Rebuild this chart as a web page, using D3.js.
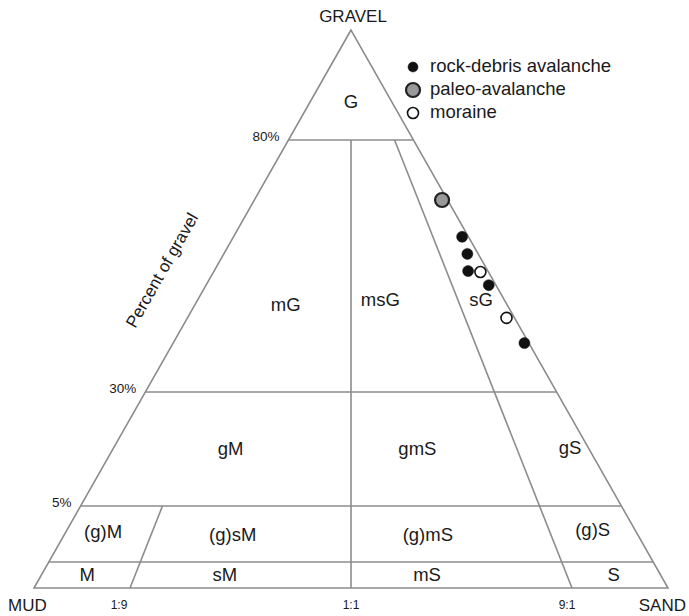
<!DOCTYPE html>
<html>
<head>
<meta charset="utf-8">
<title>Folk gravel-sand-mud ternary</title>
<script src="https://cdnjs.cloudflare.com/ajax/libs/d3/7.8.5/d3.min.js"></script>
<style>
  body { margin: 0; background: #fff; }
  svg text { font-family: "Liberation Sans", Arial, sans-serif; fill: #1a1a1a; }
</style>
</head>
<body>
<div id="chart"></div>
<script>
// class boundaries (gravel %, sand fraction of sand+mud)
var gravelLevels = [0, 0.01, 5, 30, 80, 100];
var ratioLevels = [0, 0.1, 0.5, 0.9, 1];
var gravelLines = [0.01, 5, 30, 80];
var ratioLines = [0.1, 0.5, 0.9];
var ratioLineTop = [5, 80, 80];
var gravelTicks = ["5%", "30%", "80%"];
var gravelTickValues = [5, 30, 80];
var ratioTicks = ["1:9", "1:1", "9:1"];

// class names and where they sit (gravel %, sand fraction)
var classNames = ["G", "mG", "msG", "sG", "gM", "gmS", "gS", "(g)M", "(g)sM", "(g)mS", "(g)S", "M", "sM", "mS", "S"];
var classGravel = [87, 47.3, 48.3, 48.3, 17.5, 17.5, 17.9, 2.7, 2.5, 2.5, 2.9, 0.005, 0.005, 0.005, 0.005];
var classRatio = [0.5, 0.26, 0.61, 0.95, 0.21, 0.66, 0.975, 0.043, 0.263, 0.654, 0.951, 0.049, 0.266, 0.641, 0.95];

// samples (percent)
var rockGravel = [60.8, 57.4, 54.0, 51.2, 39.7];
var rockSand = [38.5, 41.4, 43.8, 48.0, 59.8];
var rockMud = [0.7, 1.2, 2.2, 0.8, 0.5];

var paleoGravel = [68.1];
var paleoSand = [31.3];
var paleoMud = [0.6];

var moraineGravel = [53.8, 44.7];
var moraineSand = [45.3, 54.4];
var moraineMud = [0.9, 0.9];

var legendNames = ["rock-debris avalanche", "paleo-avalanche", "moraine"];

var width = 689, height = 616;

var y = d3.scaleLinear().domain(gravelLevels).range([588, 562, 506, 392, 140, 30]);
var x = d3.scaleLinear().domain(ratioLevels).range([34, 130, 351, 572, 668]);

var apexX = x(0.5), apexY = y(100), baseY = y(0);

function project(g, r) {
  var py = y(g);
  var t = (py - apexY) / (baseY - apexY);
  return [apexX + (x(r) - apexX) * t, py];
}

var svg = d3.select("#chart").append("svg")
  .attr("width", width)
  .attr("height", height);

svg.append("rect").attr("width", width).attr("height", height).attr("fill", "#fff");

var lineColor = "#8c8c8c";

// outline
svg.append("path")
  .attr("d", d3.line()([project(100, 0.5), project(0, 0), project(0, 1)]) + "Z")
  .attr("fill", "none")
  .attr("stroke", lineColor)
  .attr("stroke-width", 1.6)
  .attr("stroke-linejoin", "miter");

// horizontal gravel boundaries
svg.selectAll(".gline")
  .data(gravelLines)
  .enter().append("line")
  .attr("class", "gline")
  .attr("x1", function(d) { return project(d, 0)[0]; })
  .attr("x2", function(d) { return project(d, 1)[0]; })
  .attr("y1", function(d) { return y(d); })
  .attr("y2", function(d) { return y(d); })
  .attr("stroke", lineColor)
  .attr("stroke-width", 1.6);

// sand:mud ratio boundaries
svg.selectAll(".rline")
  .data(ratioLines)
  .enter().append("line")
  .attr("class", "rline")
  .attr("x1", function(d) { return project(0, d)[0]; })
  .attr("y1", baseY)
  .attr("x2", function(d, i) { return project(ratioLineTop[i], d)[0]; })
  .attr("y2", function(d, i) { return y(ratioLineTop[i]); })
  .attr("stroke", lineColor)
  .attr("stroke-width", 1.6);

// gravel % labels on left edge
svg.selectAll(".gtick")
  .data(gravelTickValues)
  .enter().append("text")
  .attr("class", "gtick")
  .attr("x", function(d) { return project(d, 0)[0] - 9; })
  .attr("y", function(d) { return y(d) + 1; })
  .attr("text-anchor", "end")
  .style("font-size", "13.5px")
  .text(function(d, i) { return gravelTicks[i]; });

// ratio labels under base
svg.selectAll(".rtick")
  .data(ratioLines)
  .enter().append("text")
  .attr("class", "rtick")
  .attr("x", function(d) { return x(d); })
  .attr("dx", function(d, i) { return [-11, 0, -5][i]; })
  .attr("y", baseY + 21)
  .attr("text-anchor", "middle")
  .style("font-size", "12px")
  .text(function(d, i) { return ratioTicks[i]; });

// vertex labels
svg.append("text").attr("x", apexX + 2).attr("y", apexY - 8.5)
  .attr("text-anchor", "middle").style("font-size", "17px").text("GRAVEL");
svg.append("text").attr("x", x(0) - 26).attr("y", baseY + 23)
  .attr("text-anchor", "start").style("font-size", "17px").text("MUD");
svg.append("text").attr("x", x(1) + 18).attr("y", baseY + 23)
  .attr("text-anchor", "end").style("font-size", "17px").text("SAND");

// axis title along left edge
var edgeAngle = Math.atan2(baseY - apexY, apexX - x(0)) * 180 / Math.PI;
var titlePos = project(53.6, 0);
svg.append("text")
  .attr("transform", "translate(" + (titlePos[0] - 46) + "," + titlePos[1] + ") rotate(" + (-edgeAngle) + ")")
  .attr("text-anchor", "middle")
  .style("font-size", "17px")
  .text("Percent of gravel");

// class labels
svg.selectAll(".cls")
  .data(classNames)
  .enter().append("text")
  .attr("class", "cls")
  .attr("x", function(d, i) { return project(classGravel[i], classRatio[i])[0]; })
  .attr("y", function(d, i) { return project(classGravel[i], classRatio[i])[1]; })
  .attr("dy", "0.35em")
  .attr("text-anchor", "middle")
  .style("font-size", "18.5px")
  .text(function(d) { return d; });

// samples
function samples(gr, sa, mu) {
  return gr.map(function(g, i) {
    return project(g, sa[i] / (sa[i] + mu[i]));
  });
}

var styles = [
  { r: 5.5, fill: "#111", stroke: "#111", sw: 0.5 },
  { r: 7, fill: "#999", stroke: "#222", sw: 2.2 },
  { r: 5.5, fill: "#fff", stroke: "#111", sw: 1.6 }
];

function drawPoints(pts, s) {
  svg.append("g").selectAll("circle")
    .data(pts)
    .enter().append("circle")
    .attr("cx", function(d) { return d[0]; })
    .attr("cy", function(d) { return d[1]; })
    .attr("r", s.r)
    .attr("fill", s.fill)
    .attr("stroke", s.stroke)
    .attr("stroke-width", s.sw);
}

drawPoints(samples(paleoGravel, paleoSand, paleoMud), styles[1]);
drawPoints(samples(rockGravel, rockSand, rockMud), styles[0]);
drawPoints(samples(moraineGravel, moraineSand, moraineMud), styles[2]);

// legend
var legend = svg.append("g").attr("transform", "translate(413,67)");
var rows = legend.selectAll("g")
  .data(legendNames)
  .enter().append("g")
  .attr("transform", function(d, i) { return "translate(0," + (i * 23) + ")"; });

rows.append("circle")
  .attr("r", function(d, i) { return i == 0 ? 5 : styles[i].r; })
  .attr("fill", function(d, i) { return styles[i].fill; })
  .attr("stroke", function(d, i) { return styles[i].stroke; })
  .attr("stroke-width", function(d, i) { return styles[i].sw; });

rows.append("text")
  .attr("x", 17)
  .attr("y", 4.5)
  .style("font-size", "18.5px")
  .text(function(d) { return d; });
</script>
</body>
</html>
